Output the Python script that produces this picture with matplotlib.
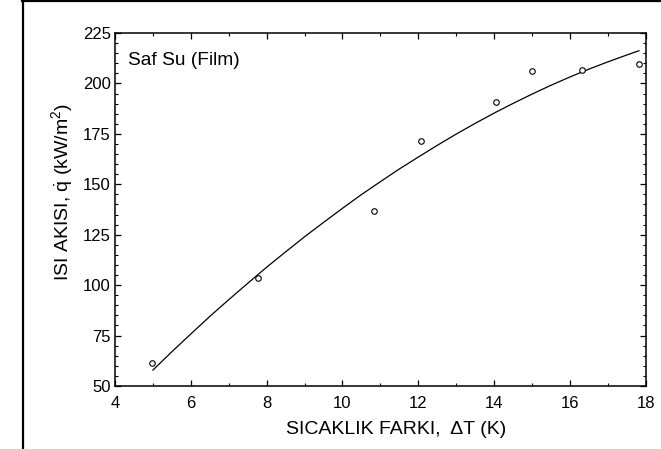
import matplotlib
matplotlib.use("Agg")
import matplotlib.pyplot as plt
from matplotlib.lines import Line2D
from matplotlib.ticker import MultipleLocator

# measured points (open circles)
dT_meas = [4.97, 7.78, 10.84, 12.08, 14.04, 15.01, 16.31, 17.81]
q_meas = [61.6, 103.7, 136.9, 171.5, 191.0, 206.2, 206.5, 209.6]

# fitted curve
dT_fit = [5.0, 5.5, 6.0, 6.5, 7.0, 7.5, 8.0, 8.5, 9.0, 9.5, 10.0, 10.5,
          11.0, 11.5, 12.0, 12.5, 13.0, 13.5, 14.0, 14.5, 15.0, 15.5,
          16.0, 16.5, 17.0, 17.5, 17.82]
q_fit = [57.9, 67.0, 75.8, 84.5, 92.8, 100.9, 108.9, 116.5, 124.0, 131.1,
         138.1, 144.9, 151.3, 157.6, 163.5, 169.3, 174.9, 180.2, 185.3,
         190.1, 194.7, 199.1, 203.2, 207.1, 210.7, 214.1, 216.2]

plt.rcParams.update({
    "font.family": ["Liberation Sans", "DejaVu Sans"],
    "mathtext.fontset": "custom",
    "mathtext.rm": "Liberation Sans",
    "mathtext.it": "Liberation Sans",
    "axes.linewidth": 1.1,
})

fig = plt.figure(figsize=(6.61, 4.49), dpi=100)
ax = fig.add_axes([0.174, 0.1403, 0.803, 0.7862])

ax.plot(dT_fit, q_fit, color="black", lw=0.9)
ax.plot(dT_meas, q_meas, ls="none", marker="o", ms=4, mfc="white",
        mec="black", mew=0.8)

ax.set_xlim(4, 18)
ax.set_ylim(50, 225)
ax.xaxis.set_major_locator(MultipleLocator(2))
ax.xaxis.set_minor_locator(MultipleLocator(1))
ax.yaxis.set_major_locator(MultipleLocator(25))
ax.yaxis.set_minor_locator(MultipleLocator(5))
ax.tick_params(which="both", direction="in", top=True, right=True,
               labelsize=12, colors="black")
ax.tick_params(which="major", length=4.5, width=0.9)
ax.tick_params(which="minor", length=2.5, width=0.8)
ax.tick_params(axis="x", which="major", pad=7.5)
ax.tick_params(axis="y", which="major", pad=3)

ax.set_xlabel("SICAKLIK FARKI,  ΔT (K)", fontsize=14)
ax.set_ylabel(r"ISI AKISI, $\dot{\mathrm{q}}$ (kW/m$^2$)", fontsize=14)
ax.xaxis.set_label_coords(0.530, -0.099)
ax.yaxis.set_label_coords(-0.075, 0.55)
ax.text(0.025, 0.923, "Saf Su (Film)", transform=ax.transAxes,
        fontsize=13.8, va="center", ha="left")

# frame of the original image (left and top edges)
fig.add_artist(Line2D([22.5 / 661, 22.5 / 661], [0, 1], color="black",
                      lw=1.6, transform=fig.transFigure))
fig.add_artist(Line2D([22 / 661, 1], [1 - 0.8 / 449, 1 - 0.8 / 449],
                      color="black", lw=1.6, transform=fig.transFigure))

fig.savefig("out.png", dpi=100, facecolor="white")
